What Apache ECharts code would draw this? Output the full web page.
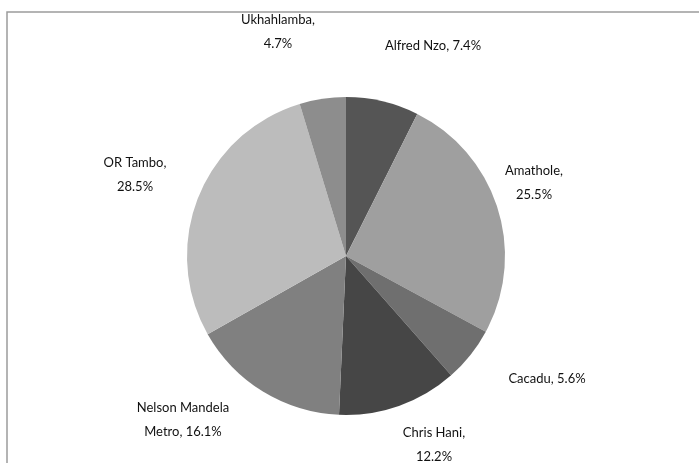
<!DOCTYPE html>
<html>
<head>
<meta charset="utf-8">
<script src="https://cdn.jsdelivr.net/npm/echarts@6/dist/echarts.min.js"></script>
<style>
  html, body { margin: 0; padding: 0; background: #fff; }
  #chart { width: 699px; height: 463px; }
</style>
</head>
<body>
<div id="chart"></div>
<script>
// districts, share of total (%)
const districts = ['Alfred Nzo', 'Amathole', 'Cacadu', 'Chris Hani', 'Nelson Mandela Metro', 'OR Tambo', 'Ukhahlamba'];
const shares = [7.4, 25.5, 5.6, 12.2, 16.1, 28.5, 4.7];
const wrapLabel = [false, true, false, true, true, true, true];

const sliceColors = ['#555555', '#9f9f9f', '#6f6f6f', '#464646', '#808080', '#bcbcbc', '#8d8d8d'];
// label centres, the way excel placed them
const labelX = [433, 534, 547, 434, 183, 135, 278];
const labelY = [46, 183, 379, 445, 420, 175, 32];

// break a label at the space closest to its middle
function balance(s) {
  let best = -1;
  for (let i = 0; i < s.length; i++) {
    if (s[i] === ' ' && (best < 0 || Math.abs(i - s.length / 2) < Math.abs(best - s.length / 2))) best = i;
  }
  return best < 0 ? s : s.slice(0, best) + '\n' + s.slice(best + 1);
}

const chart = echarts.init(document.getElementById('chart'));

chart.setOption({
  animation: false,
  color: sliceColors,
  graphic: [{
    type: 'rect',
    shape: { x: 7, y: 12, width: 900, height: 700 },
    style: { fill: 'none', stroke: '#9c9c9c', lineWidth: 1.5 },
    silent: true
  }],
  series: [{
    type: 'pie',
    center: [346, 256],
    radius: 159,
    startAngle: 90,
    clockwise: true,
    data: districts.map((d, i) => ({ name: d, value: shares[i] })),
    label: {
      show: true,
      position: 'outside',
      fontFamily: 'Lato',
      fontSize: 13,
      lineHeight: 24,
      color: '#111',
      formatter: p => {
        const s = p.name + ', ' + p.value + '%';
        return wrapLabel[p.dataIndex] ? balance(s) : s;
      }
    },
    labelLine: { show: false },
    labelLayout: p => ({
      x: labelX[p.dataIndex],
      y: labelY[p.dataIndex],
      align: 'center',
      verticalAlign: 'middle'
    }),
    emphasis: { disabled: true }
  }]
});
</script>
</body>
</html>
